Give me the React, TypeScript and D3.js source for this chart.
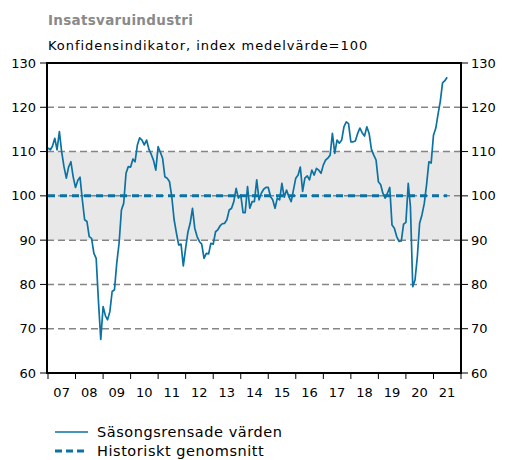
import React from 'react';
import * as d3 from 'd3';

// monthly values, jan 2007 - jul 2021
const values2007 = [110.8, 110.4, 111.2, 113.0, 110.4, 114.5, 110.0, 106.6, 104.0, 106.5, 107.7, 104.3];
const values2008 = [101.9, 103.5, 104.2, 99.0, 94.6, 94.2, 90.8, 90.4, 87.0, 85.9, 76.0, 67.6];
const values2009 = [75.0, 72.9, 72.0, 73.9, 78.4, 78.8, 84.8, 89.3, 96.8, 98.3, 105.1, 106.6];
const values2010 = [106.5, 108.3, 107.7, 111.5, 113.1, 112.6, 111.5, 112.6, 110.5, 109.4, 108.0, 105.8];
const values2011 = [111.1, 109.8, 108.5, 104.3, 104.0, 103.2, 99.8, 94.6, 91.6, 88.9, 89.1, 84.2];
const values2012 = [88.2, 91.9, 93.8, 97.2, 92.7, 90.8, 89.7, 89.1, 85.9, 87.0, 86.9, 89.3];
const values2013 = [89.1, 91.9, 92.3, 93.2, 93.7, 93.8, 94.6, 96.8, 97.2, 98.7, 101.7, 99.5];
const values2014 = [100.2, 96.2, 96.2, 102.1, 97.2, 98.7, 98.7, 103.6, 99.1, 100.6, 101.5, 101.9];
const values2015 = [101.9, 99.8, 99.1, 97.2, 99.5, 99.1, 102.8, 99.7, 101.3, 99.8, 98.7, 101.3];
const values2016 = [104.0, 104.7, 106.5, 101.0, 104.0, 104.5, 103.6, 105.8, 104.7, 106.2, 105.8, 105.1];
const values2017 = [107.0, 108.1, 108.5, 109.2, 114.1, 109.6, 112.6, 111.9, 112.6, 115.6, 116.7, 116.3];
const values2018 = [112.2, 112.2, 112.4, 114.1, 115.3, 114.2, 113.5, 115.6, 114.0, 110.5, 109.2, 108.1];
const values2019 = [103.2, 102.5, 100.6, 99.5, 100.6, 101.9, 93.4, 92.7, 90.8, 89.7, 89.8, 93.6];
const values2020 = [94.0, 102.8, 97.6, 79.5, 81.0, 86.3, 93.8, 95.7, 98.3, 102.5, 107.7, 107.4];
const values2021 = [113.7, 115.3, 118.3, 121.3, 125.5, 126.0, 126.8];

const seasonal = [
  ...values2007, ...values2008, ...values2009, ...values2010, ...values2011,
  ...values2012, ...values2013, ...values2014, ...values2015, ...values2016,
  ...values2017, ...values2018, ...values2019, ...values2020, ...values2021,
];
const historicalMean = 100;
const yTicks = [60, 70, 80, 90, 100, 110, 120, 130];
const gridLevels = [70, 80, 90, 100, 110, 120];
const years = d3.range(2007, 2022);

const title = 'Insatsvaruindustri';
const subtitle = 'Konfidensindikator, index medelvärde=100';
const legendLabels = ['Säsongsrensade värden', 'Historiskt genomsnitt'];

const BLUE = '#0b72a3';
const FONT = 'DejaVu Sans, Verdana, sans-serif';

const App = () => {
  const width = 508;
  const height = 460;
  const plot = { left: 47, right: 461, top: 63, bottom: 373 };

  const x = d3.scaleTime()
    .domain([new Date(2007, 0, 1), new Date(2022, 0, 1)])
    .range([plot.left + 1, plot.right]);
  const y = d3.scaleLinear().domain([60, 130]).range([plot.bottom, plot.top]);

  const data = seasonal.map((v, i) => ({ date: new Date(2007, i, 1), value: v }));
  const line = d3.line<{ date: Date; value: number }>()
    .x(d => x(d.date))
    .y(d => y(d.value));

  const lastDate = data[data.length - 1].date;

  return (
    <svg width={width} height={height} style={{ position: 'absolute', left: 0, top: 0 }} fontFamily={FONT}>
      <rect width={width} height={height} fill="#fff" />
      <text x={48} y={25} fontSize={13.5} fontWeight="bold" fill="#8a8a8a" letterSpacing={0.3}>{title}</text>
      <text x={48} y={50} fontSize={13} fill="#000" letterSpacing={0.95}>{subtitle}</text>

      {/* band 90-110 */}
      <rect x={plot.left} y={y(110)} width={plot.right - plot.left} height={y(90) - y(110)} fill="#e8e8e8" />

      {gridLevels.map(g => (
        <line key={g} x1={plot.left} x2={plot.right} y1={y(g)} y2={y(g)}
          stroke="#858585" strokeWidth={1.5} strokeDasharray="7,4" />
      ))}

      <line x1={x(data[0].date)} x2={x(lastDate)} y1={y(historicalMean)} y2={y(historicalMean)}
        stroke={BLUE} strokeWidth={3} strokeDasharray="7,5" />

      <path d={line(data) || ''} fill="none" stroke={BLUE} strokeWidth={1.7} strokeLinejoin="round" />

      <rect x={plot.left} y={plot.top} width={plot.right - plot.left} height={plot.bottom - plot.top}
        fill="none" stroke="#000" strokeWidth={2} />

      {yTicks.map(t => (
        <g key={t}>
          <line x1={plot.left - 7} x2={plot.left} y1={y(t)} y2={y(t)} stroke="#000" strokeWidth={1} />
          <text x={plot.left - 11} y={y(t)} dy="0.35em" textAnchor="end" fontSize={13}>{t}</text>
          <line x1={plot.right} x2={plot.right + 7} y1={y(t)} y2={y(t)} stroke="#000" strokeWidth={1} />
          <text x={plot.right + 10} y={y(t)} dy="0.35em" textAnchor="start" fontSize={13}>{t}</text>
        </g>
      ))}

      {[...years, 2022].map(yr => (
        <line key={yr} x1={x(new Date(yr, 0, 1))} x2={x(new Date(yr, 0, 1))}
          y1={plot.bottom} y2={plot.bottom + 6} stroke="#000" strokeWidth={1} />
      ))}
      {years.map(yr => (
        <text key={yr} x={x(new Date(yr, 6, 1))} y={397} textAnchor="middle" fontSize={13}>
          {d3.timeFormat('%y')(new Date(yr, 0, 1))}
        </text>
      ))}

      <line x1={55} x2={88} y1={432} y2={432} stroke={BLUE} strokeWidth={1.7} />
      <text x={97} y={437} fontSize={14.5} letterSpacing={0.55}>{legendLabels[0]}</text>
      <line x1={55} x2={88} y1={451} y2={451} stroke={BLUE} strokeWidth={3} strokeDasharray="7,4" />
      <text x={97} y={456} fontSize={14.5} letterSpacing={0.55}>{legendLabels[1]}</text>
    </svg>
  );
};

export default App;
